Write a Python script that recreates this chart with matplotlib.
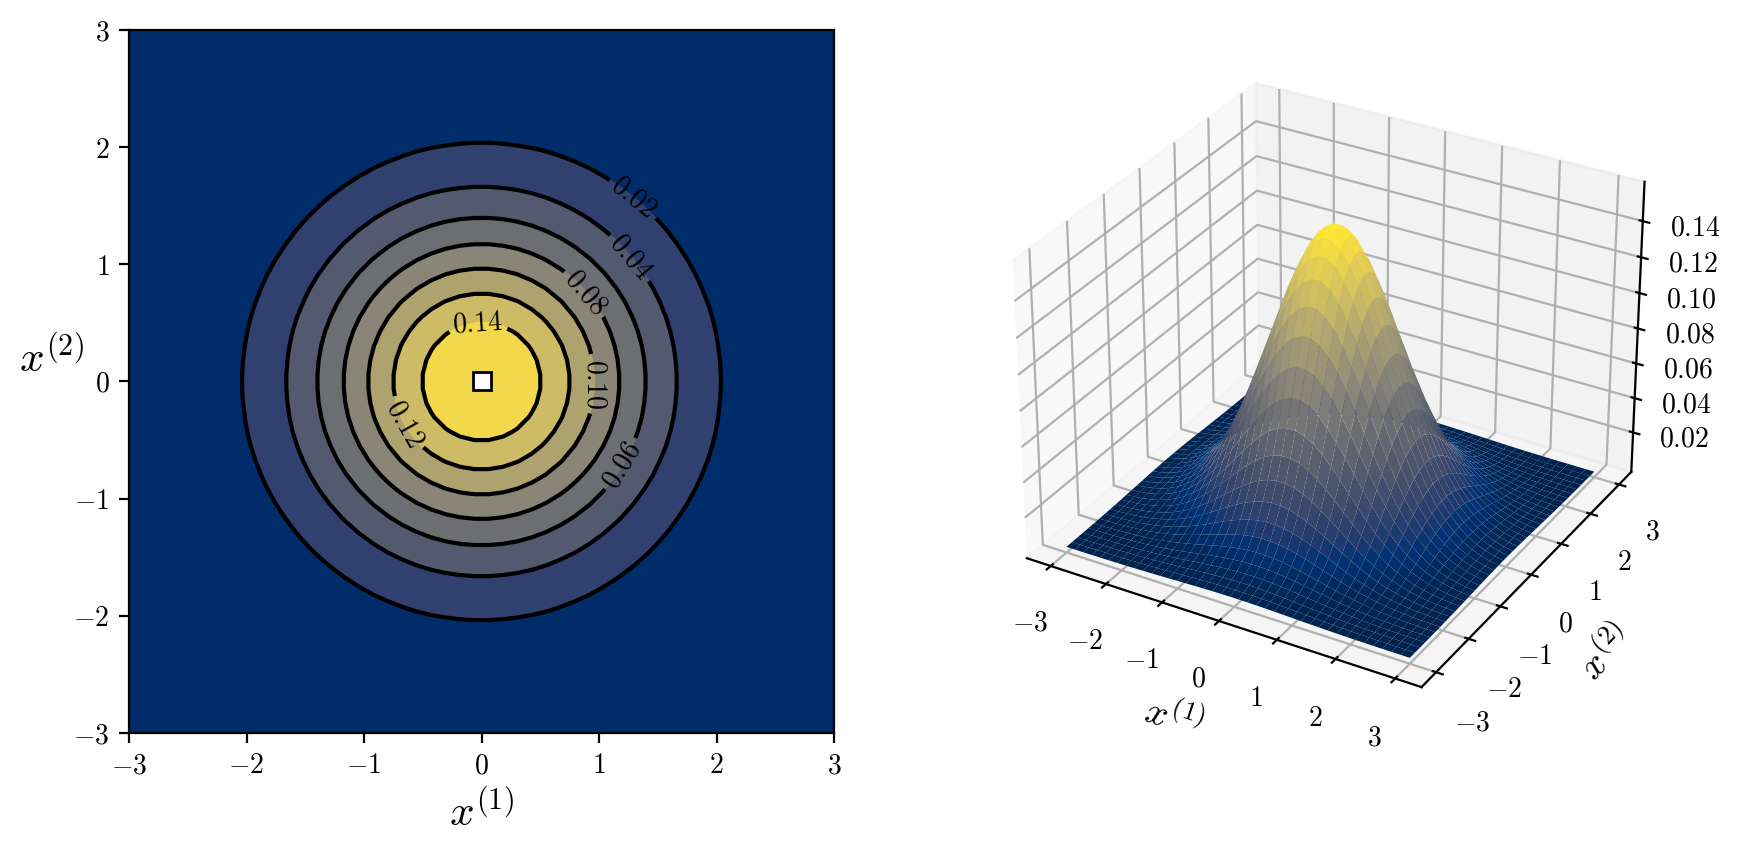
import numpy as np
import matplotlib
matplotlib.use("Agg")
import matplotlib.pyplot as plt

plt.rcParams['mathtext.fontset'] = 'cm'
plt.rcParams['font.family'] = ['DejaVu Serif']
plt.rcParams['font.size'] = 10

# Values: half of the separable profile along one axis
# (first value nearest to 0), on a 50-point grid for the contour panel and on
# a 40-point grid for the surface panel.
contour_half_profile = [.3982, .3923, .3807, .3639, .3428, .3180, .2906, .2617, .2321, .2028,
                        .1746, .1480, .1236, .1017, .0825, .0659, .0518, .0402, .0307, .0231,
                        .0171, .0125, .0090, .0063, .0044]
surface_half_profile = [.3978, .3885, .3705, .3451, .3139, .2789, .2420, .2050, .1697, .1371,
                        .1082, .0834, .0628, .0462, .0331, .0232, .0159, .0106, .0069, .0044]
grid_min, grid_max = -3, 3

contour_levels = [0.00, 0.02, 0.04, 0.06, 0.08, 0.10, 0.12, 0.14, 0.16]
line_levels = [0.02, 0.04, 0.06, 0.08, 0.10, 0.12, 0.14]
band_colors = ['#002c6a', '#30416f', '#535a6f', '#6d6e71', '#8a8677', '#aea36e', '#cdbc65', '#f2d84a']
ticks = [-3, -2, -1, 0, 1, 2, 3]
tick_labels = ['$-3$', '$-2$', '$-1$', '$0$', '$1$', '$2$', '$3$']
z_ticks = [0.02, 0.04, 0.06, 0.08, 0.10, 0.12, 0.14]
z_tick_labels = ['$0.02$', '$0.04$', '$0.06$', '$0.08$', '$0.10$', '$0.12$', '$0.14$']
mean_point = [0, 0]


def build_grid(half):
    profile = np.array(half[::-1] + half)
    x = np.linspace(grid_min, grid_max, len(profile))
    X, Y = np.meshgrid(x, x)
    return X, Y, np.outer(profile, profile)


W, H = 1742, 859
fig = plt.figure(figsize=(W / 200, H / 200), dpi=200)

X, Y, Z = build_grid(contour_half_profile)
ax = fig.add_axes([129 / W, 1 - 733 / H, 705 / W, 703 / H])
ax.contourf(X, Y, Z, levels=contour_levels, colors=band_colors)
cs = ax.contour(X, Y, Z, levels=line_levels, colors='black', linewidths=1.5)
labels = ax.clabel(cs, inline=True, fontsize=10, fmt='$%.2f$',
                   manual=[(1.29, 1.56), (1.28, 1.07), (1.18, -0.70), (0.90, 0.77),
                           (0.96, -0.02), (-0.63, -0.35), (-0.03, 0.52)])
for t in labels:
    if t.get_text() == '$0.10$':
        t.set_rotation(-90)
ax.plot(mean_point[0], mean_point[1], 's', ms=6.5, mfc='white', mec='black', mew=1)
ax.set_xlim(-3, 3)
ax.set_ylim(-3, 3)
ax.set_xticks(ticks, tick_labels)
ax.set_yticks(ticks, tick_labels)
ax.set_xlabel('$x^{(1)}$', fontsize=15.5)
ax.set_ylabel('$x^{(2)}$', fontsize=15.5, rotation=0, labelpad=8)

X3, Y3, Z3 = build_grid(surface_half_profile)
ax3 = fig.add_axes([0.559, 0.135, 0.4034, 0.845], projection='3d')
ax3.plot_surface(X3, Y3, Z3, cmap='cividis', rstride=1, cstride=1, linewidth=0,
                 antialiased=True)
ax3.set_xticks(ticks, tick_labels)
ax3.set_yticks(ticks, tick_labels)
ax3.set_zticks(z_ticks, z_tick_labels)
ax3.set_xlabel('$x^{(1)}$', fontsize=14)
ax3.set_ylabel('$x^{(2)}$', fontsize=14)

fig.savefig('out.png', dpi=200)
